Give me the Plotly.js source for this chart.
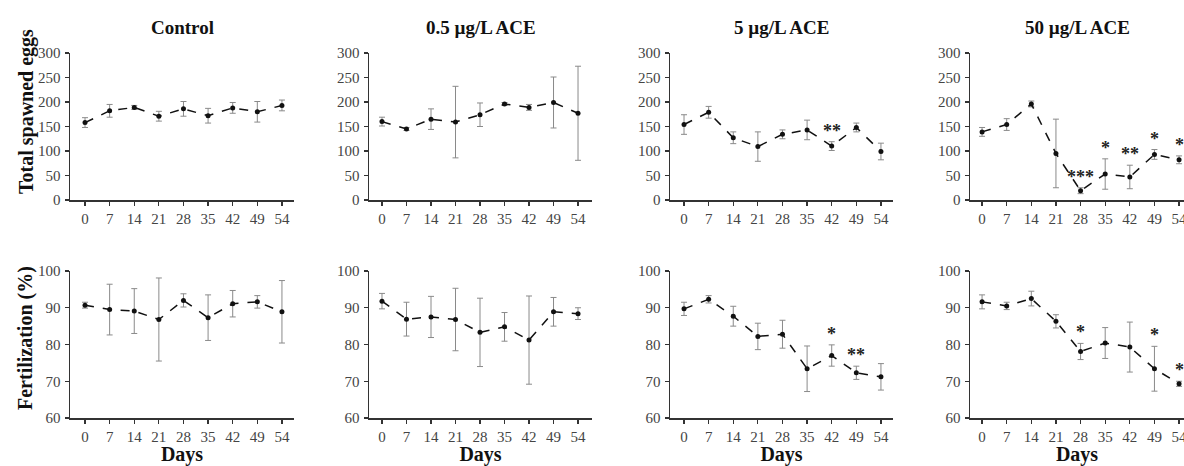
<!DOCTYPE html>
<html>
<head>
<meta charset="utf-8">
<script src="https://cdn.plot.ly/plotly-3.0.1.min.js"></script>
<style>html,body{margin:0;padding:0;background:#fff;}#chart{width:1184px;height:466px;}</style>
</head>
<body>
<div id="chart"></div>
<script>
// ---- Data ----
var days = ['0','7','14','21','28','35','42','49','54'];
var groups = ['Control','0.5 µg/L ACE','5 µg/L ACE','50 µg/L ACE'];

var eggsControl    = [158,182,189,171,186,172,188,180,193];
var eggsControlErr = [10,13,4,10,15,15,11,21,11];
var eggs05    = [160,145,165,159,174,196,189,199,177];
var eggs05Err = [9,3,21,73,24,3,6,52,96];
var eggs5    = [154,179,127,109,134,143,110,148,99];
var eggs5Err = [20,12,12,30,9,20,9,9,17];
var eggs50    = [139,154,196,95,19,53,47,93,82];
var eggs50Err = [9,12,6,70,6,31,24,10,8];

var fertControl    = [90.7,89.5,89.1,86.8,92.0,87.3,91.1,91.6,88.9];
var fertControlErr = [0.8,6.9,6.1,11.3,1.8,6.2,3.6,1.7,8.5];
var fert05    = [91.8,86.9,87.5,86.8,83.3,84.8,81.2,88.9,88.4];
var fert05Err = [2.1,4.6,5.6,8.5,9.3,3.9,12,3.9,1.6];
var fert5    = [89.7,92.3,87.7,82.2,82.8,73.4,77.0,72.3,71.2];
var fert5Err = [1.8,1.0,2.7,3.6,3.8,6.2,2.9,1.8,3.6];
var fert50    = [91.6,90.5,92.5,86.3,78.1,80.4,79.3,73.4,69.3];
var fert50Err = [1.9,1.0,2.0,1.8,2.2,4.2,6.8,6.1,0.7];

var sigEggsControl = ['','','','','','','','',''];
var sigEggs05      = ['','','','','','','','',''];
var sigEggs5       = ['','','','','','','**','',''];
var sigEggs50      = ['','','','','***','*','**','*','*'];
var sigFertControl = ['','','','','','','','',''];
var sigFert05      = ['','','','','','','','',''];
var sigFert5       = ['','','','','','','*','**',''];
var sigFert50      = ['','','','','*','','','*','*'];

var yTitleTop = 'Total spawned eggs';
var yTitleBottom = 'Fertilization (%)';
var xTitle = 'Days';

// ---- Build ----
var W = 1184, H = 466;
var SERIF = '"Liberation Serif", "Times New Roman", serif';
var colPx = [[70,294,-0.61,8.49],[369,592,-0.53,8.57],[670,893,-0.57,8.49],[970,1184,-0.49,8.2]];
var rowTop = [H-200, H-53];
var rowBot = [H-418, H-271];

var panels = [
  [eggsControl,eggsControlErr,sigEggsControl],[eggs05,eggs05Err,sigEggs05],[eggs5,eggs5Err,sigEggs5],[eggs50,eggs50Err,sigEggs50],
  [fertControl,fertControlErr,sigFertControl],[fert05,fert05Err,sigFert05],[fert5,fert5Err,sigFert5],[fert50,fert50Err,sigFert50]
];

var traces = [];
var layout = {
  width: W, height: H,
  margin: {l:0,r:0,t:0,b:0},
  paper_bgcolor: '#fff', plot_bgcolor: '#fff',
  showlegend: false,
  font: {family: SERIF, color: '#222'},
  annotations: []
};

for (var p = 0; p < 8; p++) {
  var col = p % 4, row = p < 4 ? 0 : 1;
  var n = p + 1;
  var xa = 'xaxis' + (n === 1 ? '' : n), ya = 'yaxis' + (n === 1 ? '' : n);
  var xr = 'x' + (n === 1 ? '' : n), yr = 'y' + (n === 1 ? '' : n);
  var d = panels[p];
  traces.push({
    type: 'scatter', mode: 'lines+markers',
    x: days, y: d[0], xaxis: xr, yaxis: yr,
    line: {color: '#111', width: 1.5, dash: 'dash'},
    marker: {color: '#111', size: 5, symbol: 'circle'},
    error_y: {type: 'data', array: d[1], visible: true, color: '#8a8a8a', thickness: 1, width: 3},
    cliponaxis: false
  });
  var cp = colPx[col];
  var common = {
    showline: true, linecolor: '#333', linewidth: 1.5,
    ticks: 'outside', ticklen: 4, tickwidth: 1.2, tickcolor: '#333',
    showgrid: false, zeroline: false, fixedrange: true,
    tickfont: {family: SERIF, size: 15, color: '#444'}
  };
  layout[xa] = Object.assign({}, common, {
    type: 'category', domain: [cp[0]/W, cp[1]/W], range: [cp[2], cp[3]],
    anchor: yr, tickvals: days, ticktext: days
  });
  var rb = row === 0 ? rowTop : rowBot;
  layout[ya] = Object.assign({}, common, {
    domain: [rb[0]/H, rb[1]/H], anchor: xr,
    range: row === 0 ? [0,300] : [60,100],
    dtick: row === 0 ? 50 : 10, tick0: 0, ticklabelstandoff: 1
  });
  if (row === 1) {
    layout[xa].title = {text: xTitle, font: {family: SERIF, size: 20, color: '#111', weight: 'bold'}, standoff: 8};
  }
  for (var i = 0; i < days.length; i++) {
    if (d[2][i]) {
      layout.annotations.push({
        xref: xr, yref: yr, x: i, y: d[0][i] + d[1][i],
        text: '<b>' + d[2][i] + '</b>', showarrow: false, xanchor: 'center', yanchor: 'bottom', yshift: -1,
        font: {family: SERIF, size: 18, color: '#222'}
      });
    }
  }
  if (row === 0) {
    layout.annotations.push({
      xref: 'paper', yref: 'paper', x: ((cp[0]+Math.min(cp[1],1194))/2)/W, y: (H-28)/H,
      text: '<b>' + groups[col] + '</b>', showarrow: false, xanchor: 'center', yanchor: 'middle',
      font: {family: SERIF, size: 19, color: '#111'}
    });
  }
}

layout.annotations.push({
  xref: 'paper', yref: 'paper', x: 27/W, y: (H-112)/H, textangle: -90,
  text: '<b>' + yTitleTop + '</b>', showarrow: false, xanchor: 'center', yanchor: 'middle',
  font: {family: SERIF, size: 20, color: '#111'}
});
layout.annotations.push({
  xref: 'paper', yref: 'paper', x: 25/W, y: (H-338)/H, textangle: -90,
  text: '<b>' + yTitleBottom + '</b>', showarrow: false, xanchor: 'center', yanchor: 'middle',
  font: {family: SERIF, size: 20, color: '#111'}
});

Plotly.newPlot('chart', traces, layout, {displayModeBar: false, staticPlot: true});
</script>
</body>
</html>
